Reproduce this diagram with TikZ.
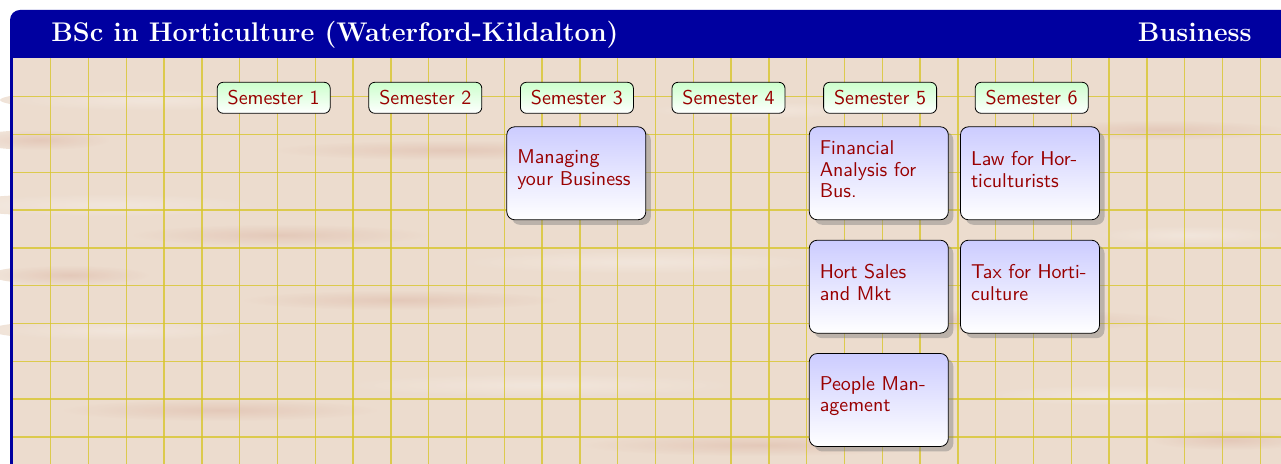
\documentclass[tikz,border=0pt]{standalone}
\usetikzlibrary{shadows}
\definecolor{hdrblue}{RGB}{0,0,160}
\definecolor{woodbase}{RGB}{236,220,206}
\definecolor{woodlight}{RGB}{243,232,223}
\definecolor{wooddark}{RGB}{226,196,180}
\definecolor{gridyellow}{RGB}{216,198,45}
\tikzset{
  semester/.style={draw, rounded corners=3pt, top color=green!20, bottom color=white,
    text=red!60!black, font=\sffamily, minimum width=56.5pt, minimum height=15.5pt, inner sep=2pt},
  course/.style={draw, rounded corners=4pt, top color=blue!20, bottom color=white,
    text=red!60!black, font=\sffamily\fontsize{10}{10.85}\selectfont, text width=59pt,
    align=left, minimum width=69.5pt, minimum height=46.5pt, inner xsep=5.25pt,
    execute at end node={\par\vspace{4pt}},
    drop shadow={shadow xshift=2.5pt, shadow yshift=-2.5pt, opacity=0.45}},
  titletext/.style={text=white, font=\fontsize{13.5}{16}\selectfont\bfseries, inner sep=0pt},
}
\begin{document}
\begin{tikzpicture}[x=0.5pt,y=-0.5pt]
  \useasboundingbox (0,0) rectangle (1281,464);
  \clip (0,0) rectangle (1281,464);
  % frame and title bar
  \fill[hdrblue, rounded corners=5pt] (10,10) rectangle (1320,500);
  \fill[woodbase] (13,58.5) rectangle (1281,464);
  % wood grain
  \foreach \x/\y/\w/\h/\c in {
      150/100/300/22/woodlight, 450/150/360/20/wooddark, 110/205/320/24/woodlight,
      280/235/300/22/wooddark, 640/262/380/24/woodlight, 400/300/320/20/wooddark,
      120/330/260/22/woodlight, 1000/320/360/22/wooddark, 1190/235/200/20/woodlight,
      540/385/420/24/woodlight, 220/410/320/22/wooddark, 1120/395/300/22/woodlight,
      760/445/360/22/wooddark, 1160/130/260/20/wooddark, 70/275/160/20/wooddark,
      760/110/240/18/woodlight, 40/140/140/20/wooddark, 1230/440/160/20/wooddark}
    \shade[inner color=\c, outer color=woodbase, opacity=0.8] (\x,\y) ellipse ({\w/2} and {\h/2});
  % grid
  \foreach \i in {1,...,33}
    \draw[gridyellow, line width=0.7pt, opacity=0.8] ({12.8+37.8*\i},58.5) -- ({12.8+37.8*\i},464);
  \foreach \j in {1,...,10}
    \draw[gridyellow, line width=0.7pt, opacity=0.8] (13,{58.9+37.8*\j}) -- (1281,{58.9+37.8*\j});
  \fill[hdrblue] (10,58) rectangle (13,464);

  \node[titletext, anchor=base west] (title) at (51,41.7)
    {BSc in Horticulture (Waterford-Kildalton)};
  \node[titletext, anchor=base east] (area) at (1252,41.7) {Business};

  \foreach \s in {1,...,6}
    \node[semester] (sem\s) at ({273.7+151.6*(\s-1)},97.8) {Semester \s};

  \node[course] (manage) at (576.3,173.3) {Managing your Business};
  \node[course] (finance) at (878.8,173.3) {Financial Analysis for Bus.};
  \node[course] (law) at (1030,173.3) {Law for Horticulturists};
  \node[course] (sales) at (878.8,286.7) {Hort Sales and Mkt};
  \node[course] (tax) at (1030,286.7) {Tax for Horticulture};
  \node[course] (people) at (878.8,400) {People Management};
\end{tikzpicture}
\end{document}
